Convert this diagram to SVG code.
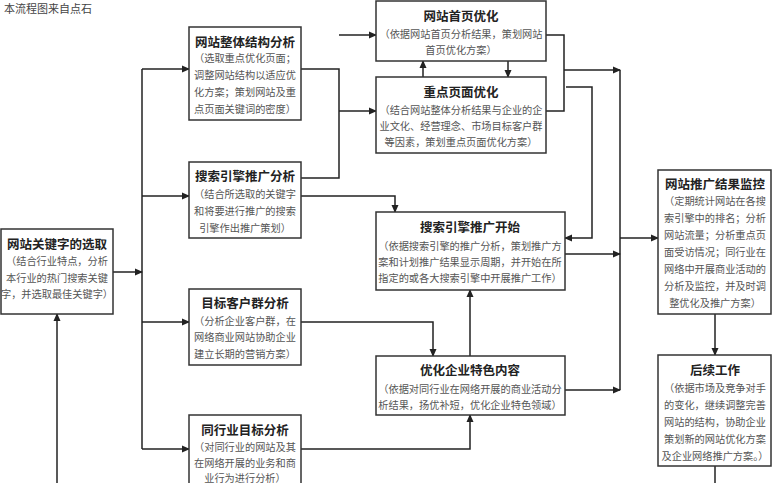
<svg xmlns="http://www.w3.org/2000/svg" width="773" height="483" viewBox="0 0 773 483">
<style>
.b{fill:#fff;stroke:#333;stroke-width:1.5}
.t{font-family:"Noto Sans CJK SC",sans-serif;font-size:12.5px;font-weight:bold;fill:#222;text-anchor:middle;dominant-baseline:central}
.d{font-family:"Noto Sans CJK SC",serif;font-size:10.2px;fill:#555;text-anchor:middle;dominant-baseline:central}
.c path{fill:none;stroke:#222;stroke-width:1.5}
</style>
<defs><marker id="a" markerWidth="8" markerHeight="8" refX="7" refY="4" orient="auto" markerUnits="userSpaceOnUse"><path d="M0,0.5L8,4L0,7.5z" fill="#222"/></marker></defs>
<rect width="773" height="483" fill="#fff"/>
<text x="4" y="8" style="font-family:'Noto Sans CJK SC',serif;font-size:11px;fill:#444;dominant-baseline:central">本流程图来自点石</text>
<g class="c">
<path d="M113,272H142" marker-end="url(#a)"/>
<path d="M142,69V449"/>
<path d="M142,69H189" marker-end="url(#a)"/>
<path d="M142,196H189" marker-end="url(#a)"/>
<path d="M142,322H189" marker-end="url(#a)"/>
<path d="M142,449H189" marker-end="url(#a)"/>
<path d="M57,483V314" marker-end="url(#a)"/>
<path d="M301,69H339V178H301"/>
<path d="M339,35H376" marker-end="url(#a)"/>
<path d="M339,111H376" marker-end="url(#a)"/>
<path d="M423,77V61" marker-end="url(#a)"/>
<path d="M508,61V77" marker-end="url(#a)"/>
<path d="M301,196H395V212" marker-end="url(#a)"/>
<path d="M546,35H564V111H546"/>
<path d="M564,70H620" marker-end="url(#a)"/>
<path d="M566,87H592V238H565" marker-end="url(#a)"/>
<path d="M620,70V390"/>
<path d="M565,254H620" marker-end="url(#a)"/>
<path d="M565,390H620" marker-end="url(#a)"/>
<path d="M620,238H658" marker-end="url(#a)"/>
<path d="M715,314V355" marker-end="url(#a)"/>
<path d="M715,466V483"/>
<path d="M301,322H433V356" marker-end="url(#a)"/>
<path d="M470,356V290" marker-end="url(#a)"/>
<path d="M301,449H470V415" marker-end="url(#a)"/>
</g>
<g id="n1"><rect class="b" x="1" y="229" width="112" height="85"/><text class="t" x="57" y="243">网站关键字的选取</text><text class="d" x="57" y="260">（结合行业特点，分析</text><text class="d" x="57" y="277">本行业的热门搜索关键</text><text class="d" x="57" y="293">字，并选取最佳关键字）</text></g>
<g id="n2"><rect class="b" x="189" y="27" width="112" height="93"/><text class="t" x="245" y="41">网站整体结构分析</text><text class="d" x="245" y="57">（选取重点优化页面；</text><text class="d" x="245" y="74">调整网站结构以适应优</text><text class="d" x="245" y="91">化方案；策划网站及重</text><text class="d" x="245" y="108">点页面关键词的密度）</text></g>
<g id="n3"><rect class="b" x="189" y="162" width="112" height="76"/><text class="t" x="245" y="175">搜索引擎推广分析</text><text class="d" x="245" y="193">（结合所选取的关键字</text><text class="d" x="245" y="210">和将要进行推广的搜索</text><text class="d" x="245" y="227">引擎作出推广策划）</text></g>
<g id="n4"><rect class="b" x="189" y="289" width="112" height="76"/><text class="t" x="245" y="302">目标客户群分析</text><text class="d" x="245" y="320">（分析企业客户群，在</text><text class="d" x="245" y="336">网络商业网站协助企业</text><text class="d" x="245" y="353">建立长期的营销方案）</text></g>
<g id="n5"><rect class="b" x="189" y="415" width="112" height="75"/><text class="t" x="245" y="429">同行业目标分析</text><text class="d" x="245" y="446">（对同行业的网站及其</text><text class="d" x="245" y="462">在网络开展的业务和商</text><text class="d" x="245" y="477">业行为进行分析）</text></g>
<g id="n6"><rect class="b" x="376" y="1" width="170" height="60"/><text class="t" x="461" y="15">网站首页优化</text><text class="d" x="461" y="33">（依据网站首页分析结果，策划网站</text><text class="d" x="461" y="49">首页优化方案）</text></g>
<g id="n7"><rect class="b" x="376" y="77" width="170" height="76"/><text class="t" x="461" y="91">重点页面优化</text><text class="d" x="461" y="109">（结合网站整体分析结果与企业的企</text><text class="d" x="461" y="125">业文化、经营理念、市场目标客户群</text><text class="d" x="461" y="141">等因素，策划重点页面优化方案）</text></g>
<g id="n8"><rect class="b" x="376" y="212" width="189" height="78"/><text class="t" x="470" y="226">搜索引擎推广开始</text><text class="d" x="470" y="245">（依据搜索引擎的推广分析，策划推广方</text><text class="d" x="470" y="261">案和计划推广结果显示周期，并开始在所</text><text class="d" x="470" y="277">指定的或各大搜索引擎中开展推广工作）</text></g>
<g id="n9"><rect class="b" x="376" y="356" width="189" height="59"/><text class="t" x="470" y="369">优化企业特色内容</text><text class="d" x="470" y="388">（依据对同行业在网络开展的商业活动分</text><text class="d" x="470" y="404">析结果，扬优补短，优化企业特色领域）</text></g>
<g id="n10"><rect class="b" x="658" y="170" width="113" height="144"/><text class="t" x="715" y="183">网站推广结果监控</text><text class="d" x="715" y="200">（定期统计网站在各搜</text><text class="d" x="715" y="217">索引擎中的排名；分析</text><text class="d" x="715" y="234">网站流量；分析重点页</text><text class="d" x="715" y="251">面受访情况；同行业在</text><text class="d" x="715" y="268">网络中开展商业活动的</text><text class="d" x="715" y="285">分析及监控，并及时调</text><text class="d" x="715" y="302">整优化及推广方案）</text></g>
<g id="n11"><rect class="b" x="658" y="355" width="113" height="111"/><text class="t" x="715" y="369">后续工作</text><text class="d" x="715" y="387">（依据市场及竞争对手</text><text class="d" x="715" y="404">的变化，继续调整完善</text><text class="d" x="715" y="421">网站的结构，协助企业</text><text class="d" x="715" y="438">策划新的网站优化方案</text><text class="d" x="715" y="455">及企业网络推广方案。）</text></g>
</svg>
